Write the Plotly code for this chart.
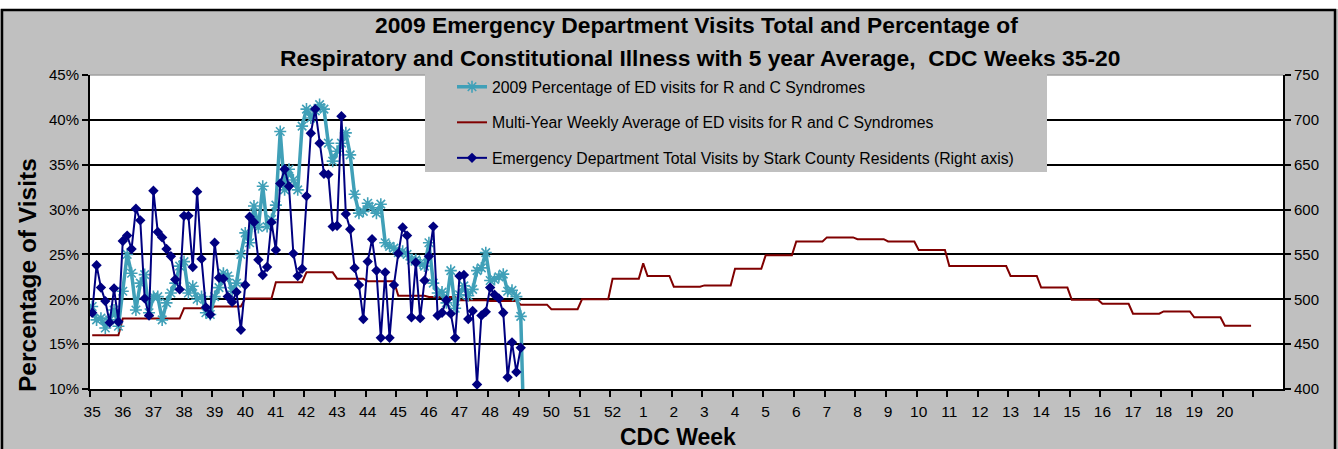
import plotly.graph_objects as go

# ---------------- data ----------------
week_labels = [str(w) for w in range(35, 53)] + [str(w) for w in range(1, 21)]

# Multi-year weekly average (%), one value per CDC week 35..52, 1..20
avg_weekly = [16.0, 17.85, 17.85, 19.0, 19.2, 20.1, 21.9, 23.0, 22.3, 22.0,
              20.4, 20.25, 19.9, 19.8, 19.4, 18.9, 20.0, 22.3,
              22.6, 21.4, 21.55, 23.4, 24.9, 26.45, 26.9, 26.7, 26.45, 25.5,
              23.7, 23.7, 22.6, 21.3, 19.95, 19.5, 18.4, 18.65, 18.0, 17.05]
avg_spike_day = 126      # first day of week 1
avg_spike_value = 24.0

# 2009 daily percentage of ED visits for R and C syndromes (%)
pct_2009 = [19.2, 17.7, 17.9, 16.8, 17.7, 18.8, 17.0,
            20.9, 25.0, 22.9, 18.8, 21.8, 22.75, 18.5,
            20.3, 20.3, 17.7, 19.6, 20.7, 21.8, 23.7,
            24.2, 20.7, 21.45, 20.0, 20.3, 18.5, 18.3,
            20.3, 21.3, 22.9, 22.6, 20.9, 21.8, 25.0,
            27.4, 26.3, 30.4, 28.0, 32.6, 28.1, 28.9,
            30.5, 38.7, 32.2, 34.5, 33.3, 32.2, 39.3,
            41.2, 40.2, 41.0, 41.7, 41.2, 37.4, 35.4,
            36.5, 37.4, 38.55, 36.1, 31.7, 29.6, 29.8,
            30.7, 30.2, 29.6, 30.6, 26.3, 25.9, 25.7,
            25.2, 25.35, 25.0, 24.4, 24.4, 24.05, 23.7,
            26.3, 21.8, 20.7, 20.8, 19.6, 23.2, 19.0,
            20.5, 21.5, 20.4, 21.1, 23.2, 23.5, 25.2,
            22.1, 22.2, 22.5, 22.8, 20.9, 21.0, 20.3,
            18.1, 0.0]

# 2009 daily ED total visits by Stark County residents (right axis)
visits_2009 = [485, 538, 513, 498, 474, 512, 475,
               565, 571, 556, 601, 588, 501, 482,
               621, 575, 569, 556, 548, 522, 511,
               593, 593, 536, 620, 545, 491, 483,
               563, 524, 523, 503, 497, 508, 466,
               516, 592, 586, 544, 527, 536, 586,
               555, 629, 645, 626, 551, 526, 534,
               615, 685, 712, 674, 640, 639, 581,
               582, 704, 595, 578, 535, 516, 478,
               542, 567, 532, 457, 530, 457, 516,
               551, 580, 571, 480, 541, 479, 521,
               548, 581, 482, 485, 499, 484, 457,
               526, 527, 478, 487, 405, 482, 486,
               513, 505, 501, 485, 413, 452, 419,
               446]

# ---------------- derived x positions ----------------
n_days = 7 * len(week_labels) + 7  # axis holds one extra (empty) week
avg_x, avg_y = [], []
for k, v in enumerate(avg_weekly):
    for j in range(7):
        d = 7 * k + j
        avg_x.append(d)
        avg_y.append(avg_spike_value if d == avg_spike_day else v)

pct_x = list(range(len(pct_2009)))
vis_x = list(range(len(visits_2009)))

# ---------------- geometry helpers (pixels -> paper) ----------------
W, H = 1338, 449
L, R, T, B = 90, 1283, 75, 389


def px(x):
    return (x - L) / (R - L)


def py(y):
    return (B - y) / (B - T)


CYAN = "#40A0B8"
NAVY = "#000080"
DARKRED = "#800000"
FONT = "Liberation Sans, Arial, sans-serif"

fig = go.Figure()

fig.add_trace(go.Scatter(
    x=avg_x, y=avg_y, mode="lines", yaxis="y",
    name="Multi-Year Weekly Average of ED visits for R and C Syndromes",
    line=dict(color=DARKRED, width=2), legendrank=2, legendgroup="b"))

fig.add_trace(go.Scatter(
    x=pct_x, y=pct_2009, mode="lines+markers", yaxis="y",
    name="2009 Percentage of ED visits for R and C Syndromes",
    line=dict(color=CYAN, width=3.5),
    marker=dict(symbol="asterisk-open", size=10, color=CYAN,
                line=dict(color=CYAN, width=1.6)),
    legendrank=1, legendgroup="a"))

fig.add_trace(go.Scatter(
    x=vis_x, y=visits_2009, mode="lines+markers", yaxis="y2",
    name="Emergency Department Total Visits by Stark County Residents (Right axis)",
    line=dict(color=NAVY, width=2),
    marker=dict(symbol="diamond", size=8, color=NAVY),
    legendrank=3, legendgroup="c"))

tick_vals = [7 * k for k in range(len(week_labels))]
minor_vals = [7 * k - 0.5 for k in range(len(week_labels) + 2)]

fig.update_layout(
    width=W, height=H,
    margin=dict(l=L, r=W - R, t=T, b=H - B, pad=0),
    paper_bgcolor="#C0C0C0",
    plot_bgcolor="white",
    font=dict(family=FONT, color="black", size=15),
    showlegend=True,
    legend=dict(x=px(452), y=py(70), xanchor="left", yanchor="top",
                bgcolor="rgba(0,0,0,0)", borderwidth=0,
                font=dict(size=15.8, family=FONT), tracegroupgap=12,
                itemwidth=30),
    xaxis=dict(range=[-0.5, n_days - 0.5 - 0.2], tickmode="array",
               tickvals=tick_vals, ticktext=week_labels, ticks="",
               ticklabelstandoff=7,
               showgrid=False, zeroline=False,
               showline=True, linecolor="black", linewidth=2,
               tickfont=dict(size=15.5),
               minor=dict(tickmode="array", tickvals=minor_vals,
                          ticks="outside", ticklen=6, tickwidth=2,
                          tickcolor="black", showgrid=False)),
    yaxis=dict(range=[10, 45], tickmode="array",
               tickvals=[10, 15, 20, 25, 30, 35, 40, 45],
               ticktext=["10%", "15%", "20%", "25%", "30%", "35%", "40%", "45%"],
               ticks="outside", ticklen=6, tickwidth=2, tickcolor="black",
               showgrid=False, zeroline=False,
               showline=True, linecolor="black", linewidth=2,
               tickfont=dict(size=15),
               minor=dict(tickmode="array", tickvals=[15, 20, 25, 30, 35, 40],
                          showgrid=True, gridcolor="black", gridwidth=2,
                          ticks="")),
    yaxis2=dict(range=[400, 750], overlaying="y", side="right",
                tickmode="array", tickvals=list(range(400, 751, 50)),
                ticks="outside", ticklen=6, tickwidth=2, tickcolor="black",
                showgrid=False, zeroline=False,
                showline=True, linecolor="black", linewidth=2,
                tickfont=dict(size=15)),
)

shapes = [
    # white strip at the very top of the picture
    dict(type="rect", xref="paper", yref="paper", x0=px(-5), x1=px(W + 5),
         y0=py(9), y1=py(-5), fillcolor="white", line=dict(width=0),
         layer="below"),
    # outer chart frame
    dict(type="rect", xref="paper", yref="paper", x0=px(2), x1=px(1335),
         y0=py(470), y1=py(10), fillcolor="rgba(0,0,0,0)",
         line=dict(color="black", width=2.5), layer="above"),
    # gray top border of plot area
    dict(type="line", xref="paper", yref="paper", x0=0, x1=1, y0=1, y1=1,
         line=dict(color="#A0A0A0", width=1.5), layer="above"),
    # legend box
    dict(type="rect", xref="paper", yref="paper", x0=px(425), x1=px(1047),
         y0=py(172), y1=py(72), fillcolor="#C0C0C0", line=dict(width=0),
         layer="above"),
]
fig.update_layout(shapes=shapes)

annotations = [
    dict(text="<b>2009 Emergency Department Visits Total and Percentage of</b>",
         x=px(696), y=py(25), xref="paper", yref="paper", showarrow=False,
         xanchor="center", yanchor="middle", font=dict(size=22.8)),
    dict(text="<b>Respiratory and Constitutional Illness with 5 year Average,  CDC Weeks 35-20</b>",
         x=px(700), y=py(58), xref="paper", yref="paper", showarrow=False,
         xanchor="center", yanchor="middle", font=dict(size=22.8)),
    dict(text="<b>Percentage of Visits</b>", textangle=-90,
         x=px(27), y=py(275), xref="paper", yref="paper", showarrow=False,
         xanchor="center", yanchor="middle", font=dict(size=24.5)),
    dict(text="<b>CDC Week</b>",
         x=px(678), y=py(437), xref="paper", yref="paper", showarrow=False,
         xanchor="center", yanchor="middle", font=dict(size=23)),
]
fig.update_layout(annotations=annotations)

fig.write_html("out.html", config={"displayModeBar": False},
               post_script="document.body.style.margin='0';")
